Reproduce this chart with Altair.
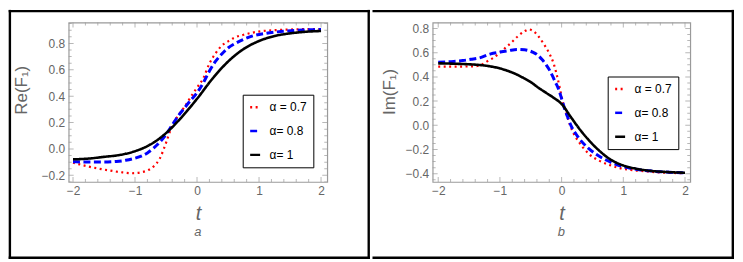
import altair as alt
import pandas as pd

# ---------------- data ----------------
SERIES = ["α = 0.7", "α= 0.8", "α= 1"]
COLORS = ["#ff0000", "#0000ff", "#000000"]
DASHES = [[2, 3.5], [7, 3.5], [1, 0]]
WIDTHS = [2.2, 3.0, 2.6]

# panel a : Re(F1)
t_a_07 = [-2, -1.8, -1.6, -1.4, -1.2, -1.05, -0.9, -0.8, -0.7, -0.6, -0.5, -0.4, -0.3, -0.2, -0.1,
          0, 0.1, 0.2, 0.3, 0.4, 0.5, 0.6, 0.75, 0.9, 1.05, 1.25, 1.5, 1.75, 2]
re_07 = [-0.104, -0.128, -0.148, -0.164, -0.178, -0.184, -0.177, -0.163, -0.133, -0.072, 0.046, 0.178,
         0.255, 0.32, 0.395, 0.465, 0.535, 0.648, 0.725, 0.783, 0.815, 0.843, 0.865, 0.882, 0.893, 0.9,
         0.905, 0.908, 0.909]
t_a_08 = [-2, -1.75, -1.5, -1.3, -1.15, -1, -0.9, -0.8, -0.7, -0.6, -0.5, -0.4, -0.3, -0.2, -0.1,
          0, 0.1, 0.2, 0.3, 0.4, 0.5, 0.6, 0.75, 0.9, 1.1, 1.4, 1.7, 2]
re_08 = [-0.097, -0.099, -0.099, -0.095, -0.086, -0.07, -0.055, -0.03, 0.007, 0.052, 0.11, 0.181,
         0.252, 0.312, 0.37, 0.425, 0.5, 0.59, 0.665, 0.72, 0.765, 0.795, 0.83, 0.857, 0.876, 0.892,
         0.901, 0.905]
t_a_1 = [-2, -1.75, -1.5, -1.25, -1, -0.75, -0.5, -0.25, 0, 0.25, 0.5, 0.75, 1, 1.25, 1.5, 1.75, 2]
re_1 = [-0.079, -0.073, -0.06, -0.046, -0.017, 0.034, 0.12, 0.24, 0.38, 0.533, 0.662, 0.757, 0.818,
        0.856, 0.876, 0.888, 0.894]

# panel b : Im(F1)
t_b_07 = [-2, -1.7, -1.4, -1.3, -1.2, -1.1, -1.0, -0.9, -0.8, -0.7, -0.6, -0.53, -0.45, -0.37, -0.3,
          -0.2, -0.13, -0.08, -0.03, 0, 0.03, 0.08, 0.13, 0.19, 0.27, 0.35, 0.45, 0.59, 0.75, 0.91,
          1.12, 1.34, 1.6, 2]
im_07 = [0.485, 0.485, 0.488, 0.5, 0.53, 0.56, 0.6, 0.645, 0.69, 0.74, 0.777, 0.792, 0.775, 0.732,
         0.68, 0.595, 0.512, 0.42, 0.31, 0.235, 0.17, 0.09, 0.01, -0.063, -0.131, -0.186, -0.24,
         -0.287, -0.323, -0.35, -0.369, -0.38, -0.39, -0.396]
t_b_08 = [-2, -1.75, -1.6, -1.47, -1.345, -1.15, -1.0, -0.86, -0.72, -0.6, -0.47, -0.4, -0.32, -0.25,
          -0.2, -0.15, -0.1, -0.05, 0, 0.05, 0.1, 0.158, 0.238, 0.319, 0.427, 0.56, 0.72, 0.88, 1.07,
          1.285, 1.5, 1.75, 2]
im_08 = [0.522, 0.528, 0.535, 0.545, 0.555, 0.59, 0.605, 0.617, 0.627, 0.624, 0.605, 0.585, 0.545,
         0.5, 0.46, 0.41, 0.355, 0.3, 0.22, 0.135, 0.065, -0.008, -0.076, -0.131, -0.186, -0.24,
         -0.287, -0.323, -0.35, -0.369, -0.38, -0.388, -0.393]
t_b_1 = [-2, -1.75, -1.5, -1.25, -1, -0.875, -0.75, -0.625, -0.5, -0.375, -0.25, -0.125, 0, 0.15,
         0.3, 0.45, 0.6, 0.8, 1, 1.2, 1.4, 1.7, 2]
im_1 = [0.512, 0.509, 0.504, 0.494, 0.47, 0.45, 0.425, 0.393, 0.357, 0.31, 0.268, 0.226, 0.176, 0.068,
        -0.037, -0.128, -0.205, -0.285, -0.332, -0.358, -0.374, -0.386, -0.392]

# tick positions
X_MAJOR = [-2, -1, 0, 1, 2]
X_MINOR = [-1.8, -1.6, -1.4, -1.2, -0.8, -0.6, -0.4, -0.2, 0.2, 0.4, 0.6, 0.8, 1.2, 1.4, 1.6, 1.8]
RE_Y_MAJOR = [-0.2, 0.0, 0.2, 0.4, 0.6, 0.8]
RE_Y_MINOR = [-0.25, -0.15, -0.1, -0.05, 0.05, 0.1, 0.15, 0.25, 0.3, 0.35, 0.45, 0.5, 0.55, 0.65,
              0.7, 0.75, 0.85, 0.9, 0.95]
IM_Y_MAJOR = [-0.4, -0.2, 0.0, 0.2, 0.4, 0.6, 0.8]
IM_Y_MINOR = [-0.45, -0.35, -0.3, -0.25, -0.15, -0.1, -0.05, 0.05, 0.1, 0.15, 0.25, 0.3, 0.35, 0.45,
              0.5, 0.55, 0.65, 0.7, 0.75]

# ---------------- styling / layout ----------------
GRAY_TEXT = "#666666"
GRAY_FRAME = "#9a9a9a"
FONT = "Liberation Sans"

# outer frame (page coordinates)
B_LEFT, B_TOP, B_RIGHT, B_BOTTOM, B_DIV, BW = 8.0, 8.0, 734.7, 258.4, 371.2, 2.4
PLOT_TOP, PLOT_H = 20.8, 160.2
CAPTION_BASELINE = 235.0
XTITLE_Y = 37.5

ONE = pd.DataFrame({"k": [0]})


def rect(x1, x2, y1, y2):
    return alt.Chart(ONE).mark_rect(color="black").encode(
        x=alt.value(x1), x2=alt.value(x2), y=alt.value(y1), y2=alt.value(y2))


def panel(series, xdom, ydom, W, ox, ymaj, ymin, ytitle, ytitle_pos,
          caption, legend_pos, which):
    H, oy = PLOT_H, PLOT_TOP
    xs = alt.Scale(domain=xdom, nice=False, zero=False)
    ys = alt.Scale(domain=ydom, nice=False, zero=False)
    cscale = alt.Scale(domain=SERIES, range=COLORS)
    dscale = alt.Scale(domain=SERIES, range=DASHES)
    leg = alt.Legend(title=None, orient="none", legendX=legend_pos[0], legendY=legend_pos[1],
                     strokeColor="black", fillColor="white", padding=6, symbolType="stroke",
                     symbolSize=100, symbolStrokeWidth=2.5, labelFont=FONT, labelFontSize=12,
                     labelColor="black", rowPadding=11, labelOffset=8)
    xaxis = alt.Axis(values=X_MAJOR, format="d", ticks=False, domain=False, grid=False,
                     labelFlush=False, labelFont=FONT, labelFontSize=12, labelColor=GRAY_TEXT,
                     labelPadding=4, title="t", titleFont=FONT, titleFontSize=20,
                     titleFontStyle="italic", titleFontWeight="normal", titleColor=GRAY_TEXT,
                     titleX=W / 2, titleY=XTITLE_Y, titleBaseline="alphabetic", titleAlign="center")
    yaxis = alt.Axis(values=ymaj, format=".1f", ticks=False, domain=False, grid=False,
                     labelFlush=False, labelFont=FONT, labelFontSize=12, labelColor=GRAY_TEXT,
                     labelPadding=4, title=ytitle, titleFont=FONT, titleFontSize=17,
                     titleFontWeight="normal", titleColor=GRAY_TEXT, titleAngle=-90,
                     titleX=ytitle_pos[0], titleY=ytitle_pos[1], titleBaseline="middle",
                     titleAlign="center")
    layers = []
    for i, (tt, vv) in enumerate(series):
        df = pd.DataFrame({"t": tt, "v": vv, "s": SERIES[i]})
        layers.append(alt.Chart(df).mark_line(strokeWidth=WIDTHS[i], interpolate="monotone",
                                              strokeCap="butt").encode(
            x=alt.X("t:Q", scale=xs, axis=xaxis),
            y=alt.Y("v:Q", scale=ys, axis=yaxis),
            color=alt.Color("s:N", scale=cscale, legend=leg),
            strokeDash=alt.StrokeDash("s:N", scale=dscale, legend=leg),
        ))

    # inward frame ticks (clipped to the plot area)
    def xticks(vals, L, ypix):
        return alt.Chart(pd.DataFrame({"t": vals})).mark_tick(
            clip=True, color=GRAY_FRAME, thickness=1, size=2 * L).encode(
            x=alt.X("t:Q", scale=xs, axis=xaxis), y=alt.value(ypix))

    def yticks(vals, L, xpix):
        return alt.Chart(pd.DataFrame({"v": vals})).mark_tick(
            clip=True, color=GRAY_FRAME, thickness=1, size=2 * L).encode(
            y=alt.Y("v:Q", scale=ys, axis=yaxis), x=alt.value(xpix))

    for ypix in (0, H):
        layers.append(xticks(X_MAJOR, 5, ypix))
        layers.append(xticks(X_MINOR, 3, ypix))
    for xpix in (0, W):
        layers.append(yticks(ymaj, 5, xpix))
        layers.append(yticks(ymin, 3, xpix))

    # caption under the axis title
    layers.append(alt.Chart(ONE).mark_text(
        text=caption, font=FONT, fontSize=13, fontStyle="italic", color=GRAY_TEXT,
        baseline="alphabetic", align="center").encode(
        x=alt.value(W / 2), y=alt.value(CAPTION_BASELINE - oy)))

    # black outer frame
    if which == 0:
        x_l, x_r = B_LEFT - ox, B_DIV - ox
        layers.append(rect(x_l, x_l + BW, B_TOP - oy, B_BOTTOM - oy))            # left
        layers.append(rect(x_r - BW, x_r, B_TOP - oy, B_BOTTOM - oy))            # divider
    else:
        x_l, x_r = B_DIV - ox, B_RIGHT - ox
        layers.append(rect(x_r - BW, x_r, B_TOP - oy, B_BOTTOM - oy))            # right
    layers.append(rect(x_l, x_r, B_TOP - oy, B_TOP - oy + BW))                   # top
    layers.append(rect(x_l, x_r, B_BOTTOM - oy - BW, B_BOTTOM - oy))             # bottom

    return alt.layer(*layers).properties(width=W, height=H)


p1 = panel([(t_a_07, re_07), (t_a_08, re_08), (t_a_1, re_1)],
           [-2.07, 2.1], [-0.25, 0.9575], 260, 68.3,
           RE_Y_MAJOR, RE_Y_MINOR, "Re(F₁)", (-47.3, 67.5), "a", (175, 72.5), 0)
p2 = panel([(t_b_07, im_07), (t_b_08, im_08), (t_b_1, im_1)],
           [-2.09, 2.085], [-0.468, 0.8485], 259, 431.7,
           IM_Y_MAJOR, IM_Y_MINOR, "Im(F₁)", (-43.4, 69.2), "b", (176, 54.2), 1)

chart = alt.hconcat(p1, p2, spacing=0).properties(padding=0).resolve_scale(
    color="independent", strokeDash="independent").resolve_legend(
    color="independent", strokeDash="independent").configure_view(
    stroke=GRAY_FRAME, strokeWidth=1.2)

chart.save("out.html", embed_options={"renderer": "svg", "actions": False})
